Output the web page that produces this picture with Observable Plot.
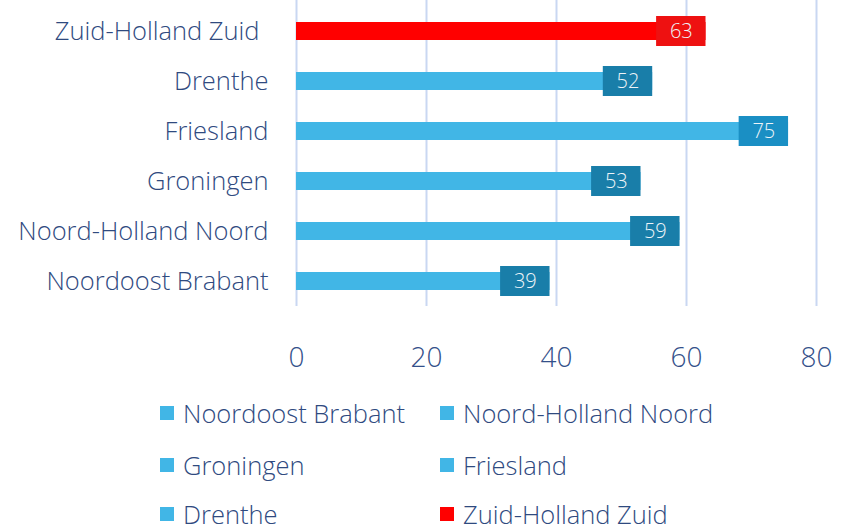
<!DOCTYPE html>
<html><head><meta charset="utf-8">
<script src="https://cdn.jsdelivr.net/npm/d3@7"></script>
<script src="https://cdn.jsdelivr.net/npm/@observablehq/plot@0.6"></script>
<style>
body{margin:0;background:#fff;font-family:"Open Sans","Segoe UI",sans-serif;}
#chart{position:relative;width:850px;height:529px;overflow:hidden;}
.legend{position:absolute;left:0;top:386px;width:850px;}
.li{position:absolute;display:flex;align-items:center;font-size:25.5px;line-height:30px;color:#2F4A7F;font-weight:300;white-space:nowrap;}
.sw{width:14px;height:14px;margin-right:9px;}
</style></head><body>
<div id="chart"></div>
<script>
const categories = ["Zuid-Holland Zuid", "Drenthe", "Friesland", "Groningen", "Noord-Holland Noord", "Noordoost Brabant"];
const values = [63, 54.8, 75.7, 53, 59, 39];
const labels = ["63", "52", "75", "53", "59", "39"];
const highlight = "Zuid-Holland Zuid";
const ticks = [0, 20, 40, 60, 80];
const legendOrder = ["Noordoost Brabant", "Noord-Holland Noord", "Groningen", "Friesland", "Drenthe", "Zuid-Holland Zuid"];

const data = categories.map((c, i) => ({c, v: values[i], l: labels[i]}));
const barColor = d => d.c === highlight ? "#FF0000" : "#41B6E6";
const boxColor = d => d.c === highlight ? "#EE1111" : d.c === "Friesland" ? "#1A8FC4" : "#197EA9";

const plot = Plot.plot({
  width: 850, height: 386,
  marginLeft: 296, marginRight: 34, marginTop: 6, marginBottom: 80,
  style: {fontFamily: "'Open Sans', sans-serif", background: "#fff"},
  x: {domain: [0, 80], ticks: ticks, tickSize: 0, tickPadding: 41, tickFormat: d => d, label: null},
  y: {domain: categories, padding: 0, tickSize: 0, tickPadding: 28, label: null},
  marks: [
    Plot.ruleX(ticks, {stroke: "#C9D7F2", strokeWidth: 2, insetTop: -6}),
    Plot.barX(data, {y: "c", x: "v", fill: barColor, insetTop: 16, insetBottom: 16}),
    Plot.barX(data, {y: "c", x1: d => d.v - 7.6, x2: "v", fill: boxColor, insetTop: 10, insetBottom: 10}),
    Plot.text(data, {y: "c", x: d => d.v - 3.8, text: "l", fill: "#EEF4F8", fontSize: 20, fontWeight: 300})
  ]
});
plot.querySelectorAll("[aria-label='x-axis tick label']").forEach(g => {
  g.setAttribute("font-size", "28"); g.setAttribute("fill", "#34508A"); g.setAttribute("font-weight", "300");
});
plot.querySelectorAll("[aria-label='y-axis tick label']").forEach(g => {
  g.setAttribute("font-size", "25.5"); g.setAttribute("fill", "#2F4A7F"); g.setAttribute("font-weight", "300");
});
plot.querySelectorAll("[aria-label='y-axis tick label'] text").forEach(t => {
  if (t.textContent === highlight) t.setAttribute("dx", "-9");
});
const chart = document.getElementById("chart");
chart.appendChild(plot);

const leg = document.createElement("div");
leg.className = "legend";
const pos = [[160, 27], [440, 27], [160, 79], [440, 79], [160, 128], [440, 128]];
legendOrder.forEach((name, i) => {
  const it = document.createElement("div");
  it.className = "li";
  it.style.left = pos[i][0] + "px";
  it.style.top = (pos[i][1] - 15) + "px";
  const sw = document.createElement("div");
  sw.className = "sw";
  sw.style.background = name === highlight ? "#FF0000" : "#41B6E6";
  const tx = document.createElement("span");
  tx.textContent = name;
  it.appendChild(sw); it.appendChild(tx);
  leg.appendChild(it);
});
chart.appendChild(leg);
</script>
</body></html>
